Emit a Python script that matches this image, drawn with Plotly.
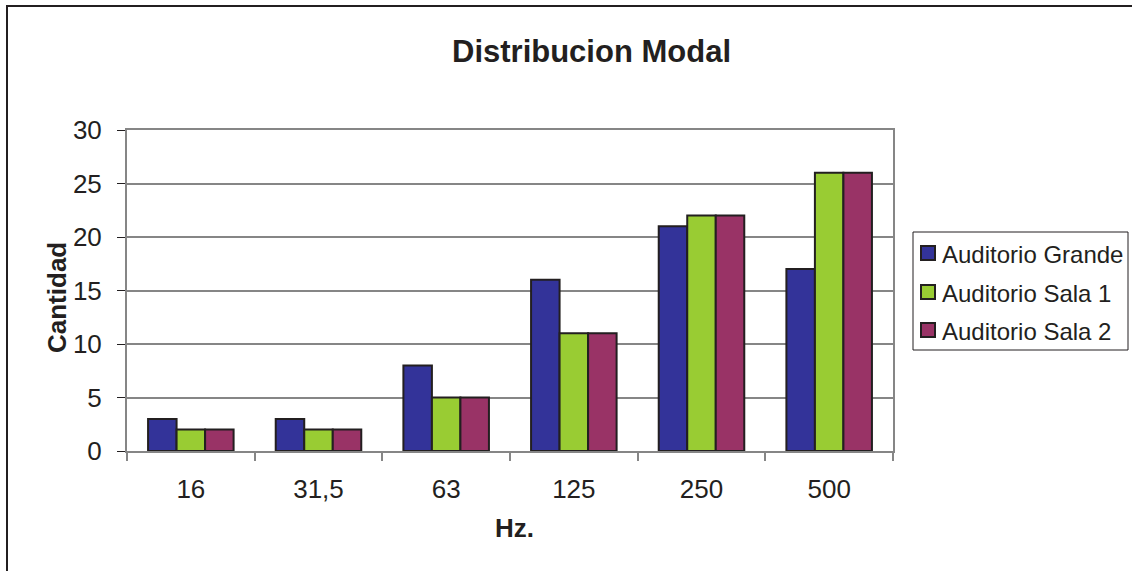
import plotly.graph_objects as go

categories = ["16", "31,5", "63", "125", "250", "500"]
grande = [3, 3, 8, 16, 21, 17]
sala1 = [2, 2, 5, 11, 22, 26]
sala2 = [2, 2, 5, 11, 22, 26]
series_names = ["Auditorio Grande", "Auditorio Sala 1", "Auditorio Sala 2"]
colors = ["#333399", "#99CC33", "#993366"]

W, H = 1132, 571
L, R, T, B = 127, 893, 130, 451
dark = "#231F20"
grid = "#868686"
font = "Liberation Sans, Arial, sans-serif"

def px(x):
    return (x - L) / (R - L)

def py(y):
    return (B - y) / (B - T)

fig = go.Figure()
for name, vals, c in zip(series_names, [grande, sala1, sala2], colors):
    fig.add_trace(go.Bar(
        x=categories, y=vals, name=name, showlegend=False,
        marker=dict(color=c, line=dict(color=dark, width=2)),
    ))

annotations = [
    dict(text="<b>Distribucion Modal</b>", x=px(591), y=py(51),
         xref="paper", yref="paper", showarrow=False,
         xanchor="center", yanchor="middle",
         font=dict(size=31, family=font, color=dark)),
    dict(text="<b>Cantidad</b>", x=px(57), y=py(298),
         xref="paper", yref="paper", showarrow=False, textangle=-90,
         xanchor="center", yanchor="middle",
         font=dict(size=26, family=font, color=dark)),
    dict(text="<b>Hz.</b>", x=px(514), y=py(528),
         xref="paper", yref="paper", showarrow=False,
         xanchor="center", yanchor="middle",
         font=dict(size=26, family=font, color=dark)),
]
shapes = [
    dict(type="rect", xref="paper", yref="paper",
         x0=px(7), x1=px(1145), y0=py(6), y1=py(590),
         line=dict(color=dark, width=2), fillcolor="rgba(0,0,0,0)",
         layer="below"),
    # legend box
    dict(type="rect", xref="paper", yref="paper",
         x0=px(913), x1=px(1128), y0=py(232), y1=py(350),
         line=dict(color=dark, width=1), fillcolor="white"),
]
item_y = [253, 292, 330]
for name, c, yy in zip(series_names, colors, item_y):
    shapes.append(dict(type="rect", xref="paper", yref="paper",
                       x0=px(921), x1=px(935), y0=py(yy - 7), y1=py(yy + 7),
                       line=dict(color=dark, width=2), fillcolor=c))
    annotations.append(dict(text=name, x=px(940), y=py(yy + 1),
                            xref="paper", yref="paper", showarrow=False,
                            xanchor="left", yanchor="middle",
                            font=dict(size=24, family=font, color=dark)))

fig.update_layout(
    width=W, height=H,
    margin=dict(l=L, r=W - R, t=T, b=H - B, pad=0),
    paper_bgcolor="white", plot_bgcolor="white",
    barmode="group", bargap=0.33, bargroupgap=0,
    font=dict(family=font, color=dark, size=26),
    showlegend=False,
    xaxis=dict(
        type="category", tickson="boundaries",
        ticks="outside", ticklen=8, tickcolor=grid, tickwidth=2,
        showline=True, linecolor=grid, linewidth=2, mirror=True,
        showgrid=False, tickfont=dict(size=26), ticklabelstandoff=14,
    ),
    yaxis=dict(
        range=[0, 30], dtick=5,
        ticks="outside", ticklen=8, tickcolor=dark, tickwidth=1,
        showline=True, linecolor=grid, linewidth=2, mirror=True,
        showgrid=True, gridcolor=grid, gridwidth=1.5,
        zeroline=False, tickfont=dict(size=26), ticklabelstandoff=10,
    ),
    annotations=annotations,
    shapes=shapes,
)

fig.write_html("out.html")
